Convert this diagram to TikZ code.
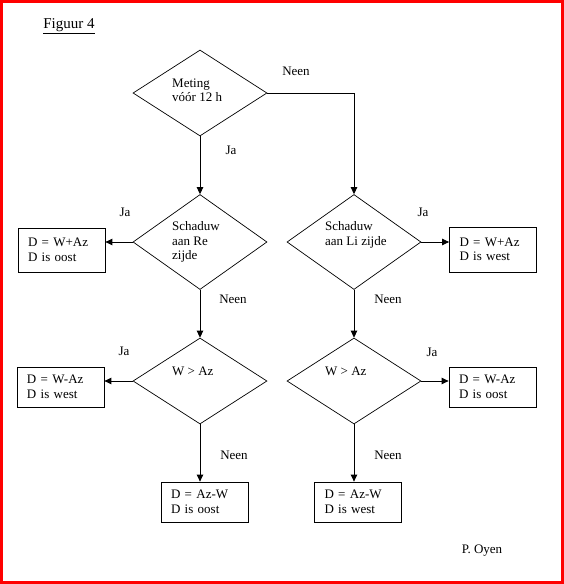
\documentclass[tikz,border=0pt]{standalone}
\usepackage{fontspec}
\setmainfont{Liberation Serif}
\usetikzlibrary{shapes.geometric,arrows.meta}

\tikzset{
    keuze/.style={draw,diamond,line width=0.7pt,inner sep=0pt,minimum width=134pt},
    uitkomst/.style={draw,rectangle,line width=0.8pt,inner sep=0pt,minimum width=87pt,
        minimum height=#1,text width=67pt,align=left},
    vraag/.style={anchor=west,align=left,inner sep=0pt},
    pijl/.style={-{Triangle[length=7pt,width=6.5pt]},line width=0.9pt},
}

\begin{document}
\begin{tikzpicture}[x=1pt,y=-1pt,every node/.style={font=\fontsize{13pt}{14.5pt}\selectfont}]
    % frame
    \useasboundingbox (0,0) rectangle (564,584);
    \draw[red,line width=2.6pt] (1.3,1.3) rectangle (562.7,582.7);
    \node[font=\fontsize{15pt}{17pt}\selectfont] (titel) at (69,26) {\underline{Figuur 4}};

    % decisions
    \node[keuze,minimum height=86pt] (meting) at (200,93) {};
    \node[keuze,minimum height=95pt] (re) at (200,242) {};
    \node[keuze,minimum height=95pt] (li) at (354,242) {};
    \node[keuze,minimum height=86pt] (wre) at (200,381) {};
    \node[keuze,minimum height=86pt] (wli) at (354,381) {};

    \node[vraag] (tmeting) at (172,90.5) {Meting\\vóór 12 h};
    \node[vraag] (tre) at (172,242) {Schaduw\\aan Re\\zijde};
    \node[vraag] (tli) at (325,235) {Schaduw\\aan Li zijde};
    \node[vraag] (twre) at (172,371) {W > Az};
    \node[vraag] (twli) at (325,371) {W > Az};

    % outcomes
    \node[uitkomst=44pt] (reja) at (61.5,250) {D = W+Az\\D is oost};
    \node[uitkomst=45pt] (lija) at (493,249.5) {D = W+Az\\D is west};
    \node[uitkomst=40pt] (wreja) at (60.5,387) {D = W-Az\\D is west};
    \node[uitkomst=40pt] (wlija) at (492.5,387) {D = W-Az\\D is oost};
    \node[uitkomst=40pt] (wrenee) at (204.5,502) {D = Az-W\\D is oost};
    \node[uitkomst=40pt] (wlinee) at (358,502) {D = Az-W\\D is west};

    % connectors
    \draw[pijl] (meting.south) -- (re.north);
    \draw[pijl] (meting.east) -| (li.north);
    \draw[pijl] (re.west) -- (re.west -| reja.east);
    \draw[pijl] (li.east) -- (li.east -| lija.west);
    \draw[pijl] (re.south) -- (wre.north);
    \draw[pijl] (li.south) -- (wli.north);
    \draw[pijl] (wre.west) -- (wre.west -| wreja.east);
    \draw[pijl] (wli.east) -- (wli.east -| wlija.west);
    \draw[pijl] (wre.south) -- (wre.south |- wrenee.north);
    \draw[pijl] (wli.south) -- (wli.south |- wlinee.north);

    % answers
    \node (a1) at (296,71) {Neen};
    \node (a2) at (231,150) {Ja};
    \node (a3) at (125,212) {Ja};
    \node (a4) at (423,212) {Ja};
    \node (a5) at (233,299) {Neen};
    \node (a6) at (388,299) {Neen};
    \node (a7) at (124,351) {Ja};
    \node (a8) at (432,352) {Ja};
    \node (a9) at (234,455) {Neen};
    \node (a10) at (388,455) {Neen};
    \node (auteur) at (482,551) {P. Oyen};
\end{tikzpicture}
\end{document}
